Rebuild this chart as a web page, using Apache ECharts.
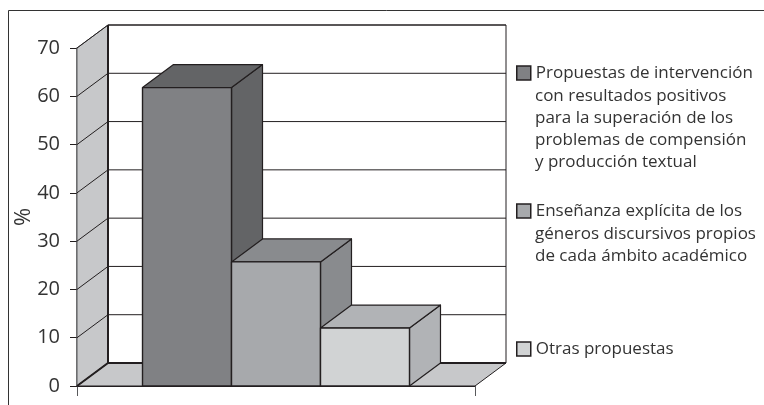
<!DOCTYPE html>
<html>
<head>
<meta charset="utf-8">
<style>
  html, body { margin: 0; padding: 0; background: #fff; }
  #chart { width: 764px; height: 405px; }
</style>
</head>
<body>
<div id="chart"></div>
<script src="https://cdn.jsdelivr.net/npm/echarts@6/dist/echarts.min.js"></script>
<script>
  // datos
  const categories = [''];
  const yTicks = [0, 10, 20, 30, 40, 50, 60, 70];
  const seriesNames = [
    'Propuestas de intervención\ncon resultados positivos\npara la superación de los\nproblemas de compensión\ny producción textual',
    'Enseñanza explícita de los\ngéneros discursivos propios\nde cada ámbito académico',
    'Otras propuestas'
  ];
  const seriesValues = [61.8, 25.7, 12];
  const frontColors = ['#808184', '#a7a9ac', '#d1d3d4'];
  const sideColors = ['#636466', '#898b8e', '#b1b3b6'];
  const legendTops = [62, 200, 338];

  const DX = 31, DY = -23;
  const LINE = '#231f20';
  const TEXT = '#333';
  const FONT = '"Open Sans"';
  const LEGEND_SIZE = 17;
  const LEGEND_LINE = 22;
  const BAR_SHARE = 0.2236;

  const chart = echarts.init(document.getElementById('chart'));

  function poly(points, fill, stroke, width) {
    return {
      type: 'polygon',
      shape: { points: points },
      style: { fill: fill, stroke: stroke, lineWidth: width, lineJoin: 'round' }
    };
  }
  function line(points, width, color) {
    return {
      type: 'polyline',
      shape: { points: points },
      style: { fill: 'none', stroke: color || LINE, lineWidth: width }
    };
  }

  // paredes y suelo
  function renderWalls(params, api) {
    const left = params.coordSys.x;
    const right = left + params.coordSys.width;
    const y0 = api.coord([0, yTicks[0]])[1];
    const yTop = api.coord([0, yTicks[yTicks.length - 1]])[1];
    return {
      type: 'group',
      children: [
        poly([[left, y0], [left + DX, y0 + DY], [left + DX, yTop + DY], [left, yTop]], '#c7c8ca', '#58595b', 1),
        poly([[left, y0], [left + DX, y0 + DY], [right + DX, y0 + DY], [right, y0]], '#c7c8ca', LINE, 1),
        line([[left + DX, y0 + DY], [left + DX, yTop + DY]], 2),
        line([[left + DX, yTop + DY], [right + DX, yTop + DY], [right + DX, y0 + DY]], 1),
        line([[left, y0], [left + DX, y0 + DY], [right + DX, y0 + DY]], 2)
      ]
    };
  }

  // lineas de division
  function renderGrid(params, api) {
    const left = params.coordSys.x;
    const right = left + params.coordSys.width;
    const y = api.coord([0, api.value(0)])[1];
    return line([[left, y], [left + DX, y + DY], [right + DX, y + DY]], 1);
  }

  function renderBar(index) {
    return function (params, api) {
      const c = api.coord([0, api.value(0)]);
      const base = api.coord([0, 0])[1];
      const w = api.size([1, 0])[0] * BAR_SHARE;
      const x1 = c[0] + (index - 1.5) * w;
      const x2 = x1 + w;
      const top = c[1];
      return {
        type: 'group',
        children: [
          poly([[x2, base], [x2 + DX, base + DY], [x2 + DX, top + DY], [x2, top]], sideColors[index], LINE, 1.2),
          poly([[x1, top], [x1 + DX, top + DY], [x2 + DX, top + DY], [x2, top]], sideColors[index], LINE, 1.2),
          poly([[x1, base], [x1, top], [x2, top], [x2, base]], frontColors[index], LINE, 1.4)
        ]
      };
    };
  }

  const barSeries = seriesNames.map(function (name, i) {
    return {
      name: name,
      type: 'custom',
      z: 5 + i,
      itemStyle: { color: frontColors[i] },
      renderItem: renderBar(i),
      encode: { y: 0 },
      data: [[seriesValues[i]]]
    };
  });

  // la leyenda centra el simbolo en todo el bloque, asi que solo lleva la primera linea
  function legendAt(i) {
    return {
      data: [seriesNames[i]],
      left: 516,
      top: legendTops[i],
      padding: 0,
      itemWidth: 14,
      itemHeight: 14,
      icon: 'rect',
      selectedMode: false,
      itemStyle: { borderColor: LINE, borderWidth: 1.5 },
      formatter: function (name) { return name.split('\n')[0]; },
      textStyle: { color: TEXT, fontFamily: FONT, fontSize: LEGEND_SIZE, lineHeight: LEGEND_LINE }
    };
  }

  // resto de lineas de cada entrada
  const legendRest = seriesNames.map(function (name, i) {
    return {
      type: 'text',
      left: 535,
      top: legendTops[i] + LEGEND_LINE + 1,
      style: {
        text: name.split('\n').slice(1).join('\n'),
        fill: TEXT,
        font: LEGEND_SIZE + 'px ' + FONT,
        lineHeight: LEGEND_LINE
      }
    };
  }).filter(function (el) { return el.style.text; });

  chart.setOption({
    animation: false,
    backgroundColor: '#fff',
    grid: { left: 77, width: 398, top: 48, height: 338, outerBoundsMode: 'none' },
    legend: seriesNames.map(function (name, i) { return legendAt(i); }),
    graphic: [{
      type: 'polyline',
      shape: { points: [[8.5, 405], [8.5, 10.5], [764, 10.5]] },
      style: { fill: 'none', stroke: '#333', lineWidth: 1 }
    }].concat(legendRest),
    xAxis: {
      type: 'category',
      data: categories,
      axisLine: { show: true, lineStyle: { color: LINE, width: 1 } },
      axisTick: { show: true, length: 10, lineStyle: { color: '#58595b', width: 1 } },
      axisLabel: { show: false }
    },
    yAxis: {
      type: 'value',
      min: 0,
      max: 70,
      interval: 10,
      name: '%',
      nameLocation: 'middle',
      nameRotate: 90,
      nameGap: 42,
      nameMoveOverlap: false,
      nameTextStyle: { color: TEXT, fontFamily: FONT, fontSize: 22 },
      splitLine: { show: false },
      axisLine: { show: true, lineStyle: { color: '#58595b', width: 1.5 } },
      axisTick: { show: true, length: 7, lineStyle: { color: LINE, width: 1 } },
      axisLabel: { color: TEXT, fontFamily: FONT, fontSize: 20, margin: 17 }
    },
    series: [
      { type: 'custom', z: 1, silent: true, renderItem: renderWalls, encode: { y: 0 }, data: [[0]] },
      { type: 'custom', z: 2, silent: true, renderItem: renderGrid, encode: { y: 0 }, data: yTicks.map(function (v) { return [v]; }) }
    ].concat(barSeries)
  });
</script>
</body>
</html>
